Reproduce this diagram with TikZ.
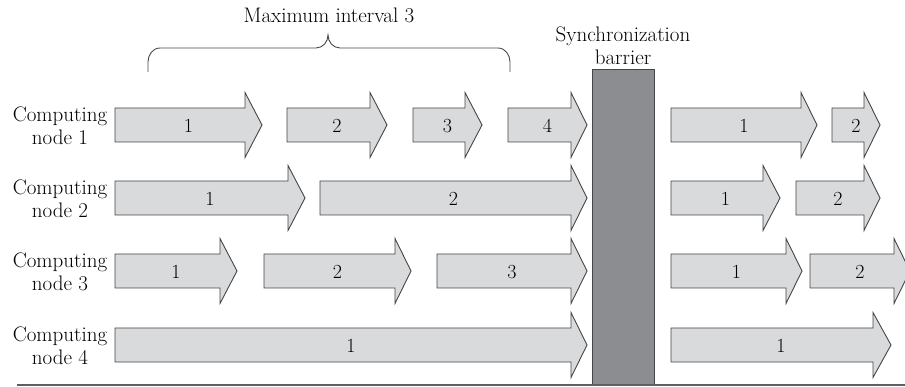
\documentclass[tikz,border=0pt]{standalone}
\usepackage{fontspec}
\definecolor{arrfill}{RGB}{217,218,220}
\definecolor{arrline}{RGB}{70,70,72}
\definecolor{barfill}{RGB}{140,141,145}
\definecolor{baseclr}{RGB}{95,95,98}
\tikzset{
  arr/.style={draw=arrline, fill=arrfill, line width=0.9pt, line join=miter},
  num/.style={inner sep=0pt, font=\fontsize{20}{22}\selectfont},
  rowlabel/.style={align=center, inner sep=0pt, font=\fontsize{21}{23}\selectfont},
  toplabel/.style={align=center, inner sep=0pt, font=\fontsize{21}{23}\selectfont},
}
% #1 name, #2 x left, #3 x head base, #4 x tip, #5 y centre, #6 label
\newcommand\procarrow[6]{%
  \draw[arr] (#2,#5-17) -- (#3,#5-17) -- (#3,#5-32.5) -- (#4,#5) -- (#3,#5+32.5) -- (#3,#5+17) -- (#2,#5+17) -- cycle;
  \node[num] (#1) at ({(#2+#4)/2},#5+1) {#6};}
\begin{document}
\begin{tikzpicture}[x=1pt,y=-1pt]
\useasboundingbox (0,0) rectangle (905,387);
% row labels
\node[rowlabel] (l1) at (60,126) {Computing\\node 1};
\node[rowlabel] (l2) at (60,199) {Computing\\node 2};
\node[rowlabel] (l3) at (60,272) {Computing\\node 3};
\node[rowlabel] (l4) at (60,346) {Computing\\node 4};
% row 1
\procarrow{r1a}{115}{245}{262}{125}{1}
\procarrow{r1b}{287}{370}{387}{125}{2}
\procarrow{r1c}{413}{465}{482}{125}{3}
\procarrow{r1d}{508}{571}{587}{125}{4}
\procarrow{r1e}{671}{801}{817}{125}{1}
\procarrow{r1f}{832}{864}{880}{125}{2}
% row 2
\procarrow{r2a}{115}{288}{305}{198}{1}
\procarrow{r2b}{320}{571}{587}{198}{2}
\procarrow{r2c}{671}{763}{780}{198}{1}
\procarrow{r2d}{796}{864}{880}{198}{2}
% row 3
\procarrow{r3a}{115}{220}{237}{271}{1}
\procarrow{r3b}{264}{395}{411}{271}{2}
\procarrow{r3c}{437}{571}{587}{271}{3}
\procarrow{r3d}{671}{786}{802}{271}{1}
\procarrow{r3e}{810}{894}{910}{271}{2}
% row 4
\procarrow{r4a}{115}{571}{587}{345}{1}
\procarrow{r4b}{671}{873}{891}{345}{1}
% barrier
\node[draw=arrline, fill=barfill, line width=0.9pt, minimum width=62pt, minimum height=316pt, inner sep=0pt, anchor=north west] (bar) at (592,69) {};
\node[toplabel, anchor=south] (barlbl) at (623,65) {Synchronization\\barrier};
% baseline
\coordinate (bl0) at (17,385);
\coordinate (bl1) at (905,385);
\draw[draw=baseclr, line width=1.3pt] (bl0) -- (bl1);
% brace
\coordinate (bra) at (148,72);
\coordinate (brb) at (510,72);
\coordinate (brtip) at (328,35);
\draw[arrline, line width=0.9pt] (bra) -- (148,62) to[out=90,in=180] (160,48) -- (316,48) to[out=0,in=-90] (brtip) to[out=-90,in=180] (340,48) -- (498,48) to[out=0,in=90] (510,62) -- (brb);
\node[toplabel] (maxlbl) at (329,15) {Maximum interval 3};
\end{tikzpicture}
\end{document}
